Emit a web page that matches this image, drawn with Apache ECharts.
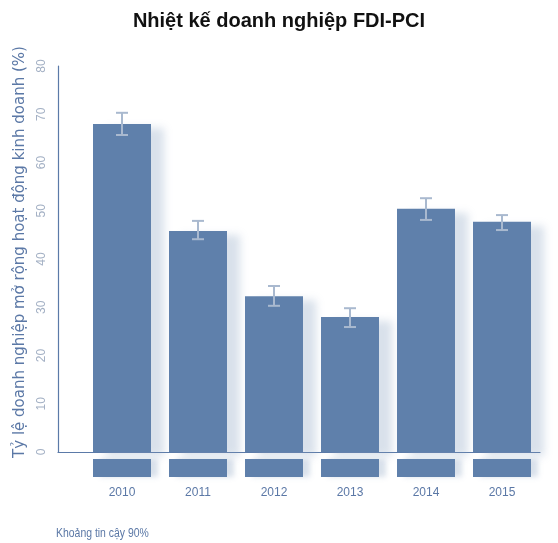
<!DOCTYPE html>
<html><head><meta charset="utf-8">
<script src="https://cdn.jsdelivr.net/npm/echarts@6/dist/echarts.min.js"></script>
<style>html,body{margin:0;padding:0;background:#fff}#c{width:558px;height:543px}</style>
</head><body><div id="c"></div>
<script>
const years = ['2010','2011','2012','2013','2014','2015'];
const values = [68.0, 45.8, 32.3, 28.0, 50.4, 47.7];
const lower = [65.7, 44.1, 30.3, 25.9, 48.1, 46.0];
const upper = [70.3, 47.9, 34.4, 29.8, 52.6, 49.1];
const yTicks = [0,10,20,30,40,50,60,70,80];
const title = 'Nhiệt kế doanh nghiệp FDI-PCI';
const yName = 'Tỷ lệ doanh nghiệp mở rộng hoạt động kinh doanh (%)';
const legendText = 'Khoảng tin cậy 90%';

const barColor = '#5f80ab';
const textBlue = '#5b78a6';
const chart = echarts.init(document.getElementById('c'));
chart.setOption({
  animation:false,
  backgroundColor:'#fff',
  title:{text:title,left:'center',top:6,textStyle:{fontFamily:'Liberation Sans',fontWeight:'bold',fontSize:20,color:'#111'}},
  grid:[
    {left:84,right:18,top:66,bottom:91},
    {left:58,right:18,top:66,bottom:91},
    {left:84,right:18,top:459,height:18}
  ],
  xAxis:[
    {type:'category',gridIndex:0,data:years,show:false},
    {type:'value',gridIndex:1,min:0,max:1,axisLine:{show:true,onZero:false,lineStyle:{color:'#5b7aa8',width:1.2}},axisTick:{show:false},axisLabel:{show:false},splitLine:{show:false}},
    {type:'category',gridIndex:2,data:years,axisLine:{show:false},axisTick:{show:false},
     axisLabel:{margin:10,color:textBlue,fontSize:12,fontFamily:'Liberation Sans Narrow, Liberation Sans'}}
  ],
  yAxis:[
    {type:'value',gridIndex:0,min:0,max:80,show:false},
    {type:'value',gridIndex:1,min:0,max:80,interval:10,
     axisLine:{show:true,lineStyle:{color:'#5b7aa8',width:1.2}},axisTick:{show:false},splitLine:{show:false},
     axisLabel:{rotate:90,margin:10,color:'#a3b0c4',fontSize:12,fontFamily:'Liberation Sans',formatter:v=>yTicks.includes(v)?String(v):''},
     name:yName,nameLocation:'middle',nameGap:29,nameRotate:90,
     nameTextStyle:{color:textBlue,fontSize:15,fontFamily:'DejaVu Sans',padding:[0,0,0,14]}},
    {type:'value',gridIndex:2,min:0,max:1,show:false}
  ],
  graphic:[{type:'text',left:56,top:528,scaleX:0.87,style:{text:legendText,fill:textBlue,fontSize:12,fontFamily:'Liberation Sans'}}],
  series:[
    {type:'bar',xAxisIndex:0,yAxisIndex:0,data:values,barWidth:58,
     itemStyle:{color:barColor,shadowColor:'rgba(130,155,190,0.3)',shadowBlur:8,shadowOffsetX:13,shadowOffsetY:4}},
    {type:'custom',xAxisIndex:0,yAxisIndex:0,data:years.map((y,i)=>[i,lower[i],upper[i]]),z:5,
     renderItem:(params,api)=>{
       const lo=api.coord([api.value(0),api.value(1)]);
       const hi=api.coord([api.value(0),api.value(2)]);
       const hw=6, st={stroke:'#a9b9cf',lineWidth:2};
       return {type:'group',children:[
         {type:'line',shape:{x1:lo[0],y1:lo[1],x2:hi[0],y2:hi[1]},style:st},
         {type:'line',shape:{x1:hi[0]-hw,y1:hi[1],x2:hi[0]+hw,y2:hi[1]},style:st},
         {type:'line',shape:{x1:lo[0]-hw,y1:lo[1],x2:lo[0]+hw,y2:lo[1]},style:st}
       ]};
     }},
    {type:'bar',xAxisIndex:2,yAxisIndex:2,data:years.map(()=>1),barWidth:58,silent:true,
     itemStyle:{color:barColor,shadowColor:'rgba(130,155,190,0.3)',shadowBlur:5,shadowOffsetX:7}}
  ]
});
</script></body></html>
